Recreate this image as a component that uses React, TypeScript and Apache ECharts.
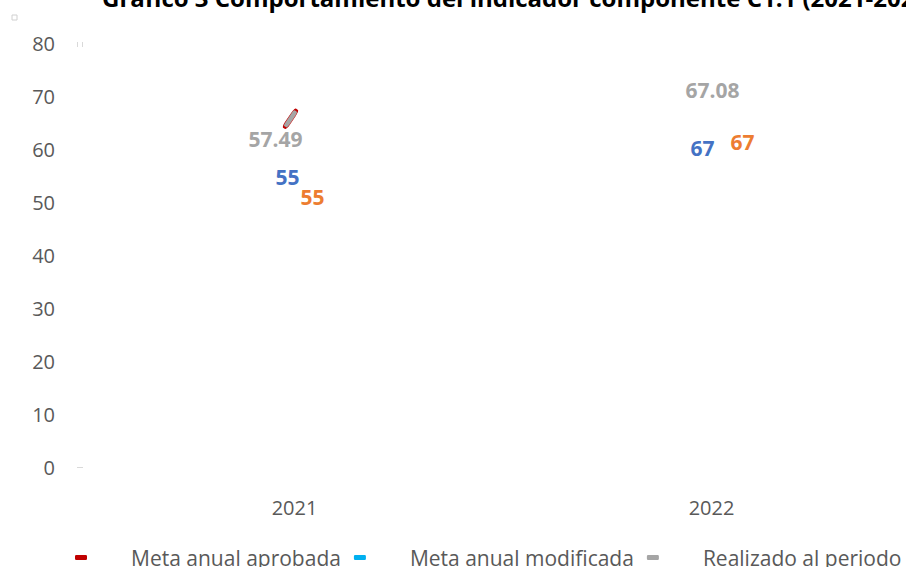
import React, { useEffect, useRef } from "react";
import * as echarts from "echarts";

const categories = ["2021", "2022"];
const seriesNames = ["Meta anual aprobada", "Meta anual modificada", "Realizado al periodo"];
const metaAprobada = [55, 67];
const metaModificada = [55, 67];
const realizado = [57.49, 67.08];
const strayMarker = [65.7, null];
const yTicks = [0, 10, 20, 30, 40, 50, 60, 70, 80];

const titleText = "Gráfico 3 Comportamiento del indicador componente C1.1 (2021-2022)";

const FONT = "'Open Sans', 'Noto Sans', sans-serif";
const legendColors = ["#C00000", "#00B0F0", "#A5A5A5"];
const labelColors = ["#4472C4", "#ED7D31", "#A5A5A5"];
// label offsets (style only) per series per category
const labelOffsets = [
  [[-7, 1], [-9, 36]],
  [[18, 21], [31, 30]],
  [[-19, -23], [1, -21]],
];

export default function App() {
  const ref = useRef<HTMLDivElement>(null);
  useEffect(() => {
    if (!ref.current) return;
    const chart = echarts.init(ref.current, null, { renderer: "svg" });
    const values = [metaAprobada, metaModificada, realizado];
    const series: any[] = values.map((arr, si) => ({
      name: seriesNames[si],
      type: "scatter",
      symbol: "circle",
      symbolSize: 0,
      itemStyle: { color: legendColors[si], opacity: 1 },
      data: arr.map((v, ci) => ({
        value: v,
        label: { offset: labelOffsets[si][ci] },
      })),
      label: {
        show: true,
        position: "inside",
        color: labelColors[si],
        fontWeight: "bold",
        fontSize: 21,
        fontFamily: FONT,
        opacity: 1,
        formatter: (p: any) => String(p.value),
      },
      z: 3,
    }));
    series.push({
      name: "_marker",
      type: "scatter",
      symbol: "roundRect",
      symbolSize: [5, 21],
      symbolRotate: -34,
      symbolOffset: [-4, 0],
      itemStyle: { color: "#A5A5A5", borderColor: "#C00000", borderWidth: 1, opacity: 1 },
      data: strayMarker,
      z: 4,
    });
    chart.setOption({
      animation: false,
      title: {
        text: titleText,
        left: 97,
        top: -20,
        textStyle: { fontFamily: FONT, fontWeight: "bold", fontSize: 24, color: "#000" },
      },
      grid: { left: 86, top: 43, width: 834, height: 424, containLabel: false },
      legend: {
        data: seriesNames.map((n) => ({ name: n, icon: "roundRect" })),
        left: 70,
        top: 542,
        itemWidth: 12,
        itemHeight: 5,
        itemGap: 13,
        textStyle: { fontFamily: FONT, fontSize: 21, color: "#595959", padding: [0, 0, 0, 39] },
      },
      xAxis: {
        type: "category",
        data: categories,
        axisLine: { show: false },
        axisTick: { show: false },
        splitLine: { show: false },
        axisLabel: { fontFamily: FONT, fontSize: 20, color: "#595959", margin: 30 },
      },
      yAxis: {
        type: "value",
        min: yTicks[0],
        max: yTicks[yTicks.length - 1],
        interval: 10,
        axisLine: { show: false },
        axisTick: { show: false },
        splitLine: { show: false },
        axisLabel: { fontFamily: FONT, fontSize: 20, color: "#595959", margin: 31 },
      },
      graphic: [
        { type: "rect", shape: { x: 12, y: 15, width: 5, height: 5 }, style: { fill: "#fff", stroke: "#d0d0d0", lineWidth: 1 } },
        { type: "rect", shape: { x: 77, y: 42, width: 1, height: 5 }, style: { fill: "#d9d9d9" } },
        { type: "rect", shape: { x: 82, y: 42, width: 1, height: 5 }, style: { fill: "#d9d9d9" } },
        { type: "rect", shape: { x: 77, y: 467, width: 6, height: 1 }, style: { fill: "#d9d9d9" } },
      ],
      series,
    });
    return () => chart.dispose();
  }, []);
  return (
    <div style={{ position: "fixed", left: 0, top: 0, width: 906, height: 567, overflow: "hidden", background: "#fff" }}>
      <div ref={ref} style={{ width: 960, height: 567 }} />
    </div>
  );
}
